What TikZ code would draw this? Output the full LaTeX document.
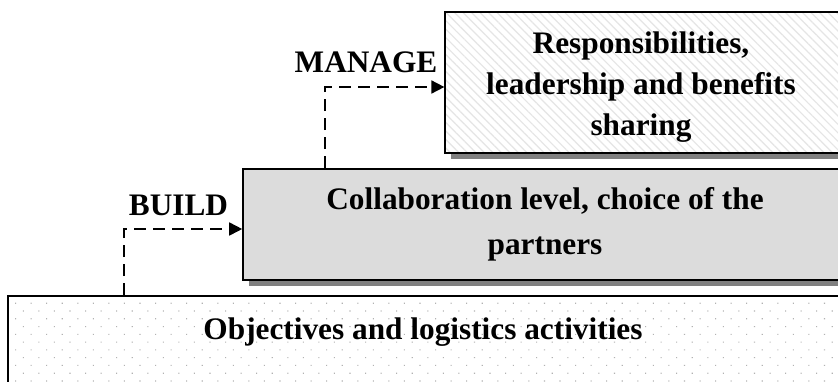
\documentclass[tikz,border=0pt]{standalone}
\usepackage{fontspec}
\setmainfont{Liberation Serif}
\usetikzlibrary{arrows.meta,patterns.meta,shadows}
\begin{document}
\begin{tikzpicture}[x=1pt,y=-1pt,
  txt/.style={font=\fontsize{31.3}{41}\selectfont\bfseries, inner sep=0pt, align=center},
  boxframe/.style={draw=black, line width=1.6pt, rectangle, inner sep=0pt},
  boxshadow/.style={drop shadow={shadow xshift=6pt, shadow yshift=-6pt, fill=black!50, opacity=1}},
  flow/.style={line width=1.7pt, dash pattern=on 12pt off 7pt, -{Triangle[length=13pt,width=13pt]}}
]
\useasboundingbox (0,0) rectangle (838,381);
% bottom box
\node[boxframe, minimum width=844pt, minimum height=110pt, preaction={fill=white},
      pattern={Dots[angle=45, distance=11pt, radius=0.75pt]}, pattern color=black!30]
      (bot) at (430,351) {};
% middle box
\node[boxframe, boxshadow, minimum width=610pt, minimum height=111pt,
      fill={rgb,255:red,220;green,220;blue,220}] (mid) at (548,224.5) {};
% top box
\node[boxframe, boxshadow, minimum width=396pt, minimum height=141pt, preaction={fill=white},
      pattern={Lines[angle=-45, distance=6pt, line width=1.2pt]}, pattern color=black!10]
      (top) at (643,82.5) {};
% texts
\node[txt, anchor=north] (toptxt) at (641,31.8) {Responsibilities,\\leadership and benefits\\sharing};
\node[txt, anchor=north, font=\fontsize{31.3}{45}\selectfont\bfseries] (midtxt) at (545,187.6) {Collaboration level, choice of the\\partners};
\node[txt, anchor=base] (bottxt) at (423,339) {Objectives and logistics activities};
\node[txt, anchor=base] (build) at (178.5,215) {BUILD};
\node[txt, anchor=base] (manage) at (366,72) {MANAGE};
% connectors
\draw[flow] ([xshift=117pt]bot.north west) |- ([yshift=-4.5pt]mid.west);
\draw[flow] ([xshift=83pt]mid.north west) |- ([yshift=-4.5pt]top.west);
\end{tikzpicture}
\end{document}
